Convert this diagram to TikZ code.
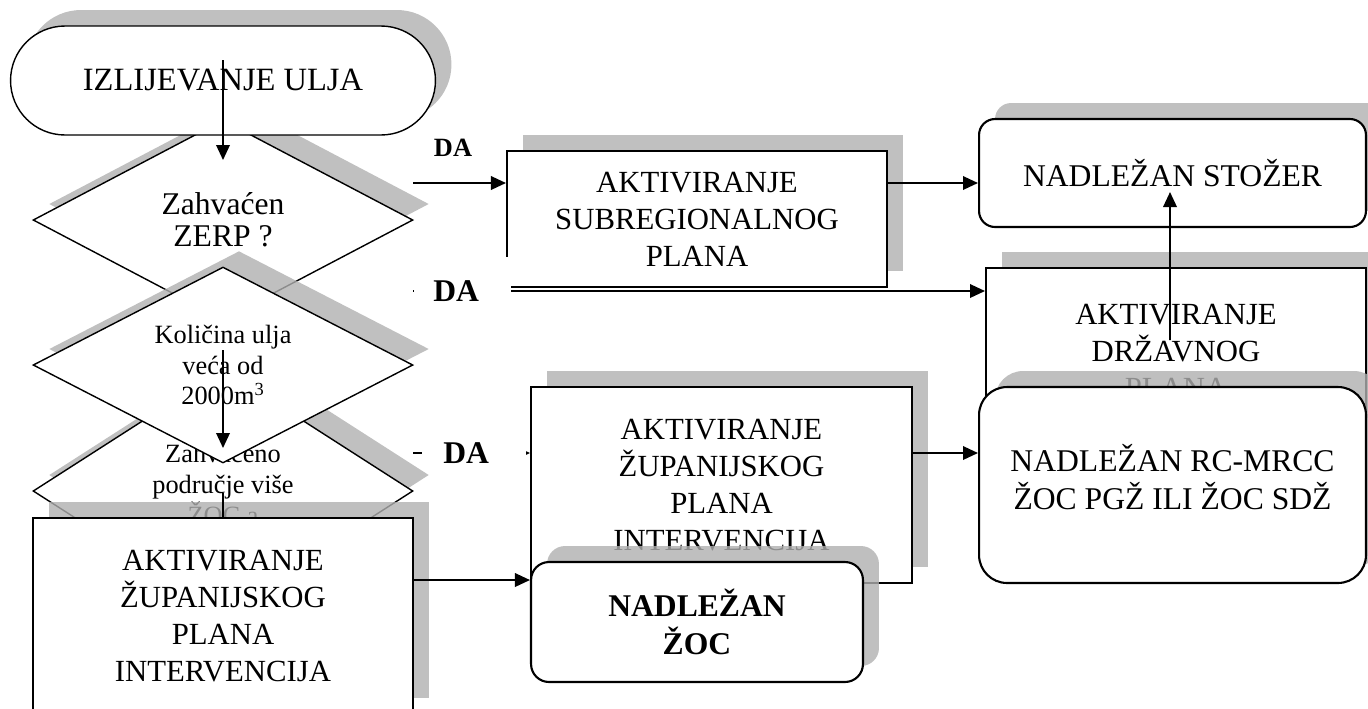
\documentclass[tikz,border=0pt]{standalone}
\usepackage{fontspec}
\setmainfont{Liberation Serif}
\usetikzlibrary{shapes.geometric,shadows,arrows.meta}

\definecolor{sjena}{rgb}{0.69,0.69,0.69}
\newcommand{\vel}[2]{\fontsize{#1}{#2}\selectfont}

\tikzset{
    sjen/.style={drop shadow={shadow xshift=.32cm, shadow yshift=.32cm, fill=sjena, opacity=.8}},
    okvir/.style={rectangle, draw, fill=white, line width=1.2pt, align=center, inner sep=0pt, sjen, font=\vel{17.5}{21}},
    zaobljen/.style={okvir, rounded corners=#1},
    odluka/.style={diamond, draw, fill=white, line width=.8pt, align=center, inner sep=0pt, sjen},
    strelica/.style={line width=1.1pt, -{Triangle[length=.3cm,width=.27cm]}},
    oznaka/.style={font=\bfseries\vel{18}{20}, inner sep=0pt}
}

\begin{document}
\begin{tikzpicture}[x=0.02cm, y=-0.02cm]
                    \useasboundingbox (0,0) rectangle (1368,708);
                    \clip (0,0) rectangle (1368,708);

                    \node[odluka, minimum width=7.6cm, minimum height=4cm, shape aspect=1.9, font=\vel{18}{18.2}] (zerp) at (223,220) {Zahvaćen\\ZERP ?};
                    \node[rectangle, draw, fill=white, line width=.8pt, rounded corners=1.09cm, minimum width=8.5cm, minimum height=2.18cm, sjen, font=\vel{18.5}{22}] (start) at (223,80.5) {IZLIJEVANJE ULJA};
                    \node[odluka, minimum width=7.6cm, minimum height=4.88cm, shape aspect=1.56, font=\vel{15}{17.6}] (vise) at (223,491) {Zahvaćeno\\područje više\\ŽOC a\rule[-8pt]{0pt}{8pt}};
                    \node[odluka, minimum width=7.6cm, minimum height=3.92cm, shape aspect=1.94, font=\vel{15}{17.6}] (kolicina) at (223,365) {Količina ulja\\veća od\\2000m\textsuperscript{3}};
                    \node[okvir, minimum width=7.6cm, minimum height=3.92cm] (zupA) at (223,616) {AKTIVIRANJE\\ŽUPANIJSKOG\\PLANA\\INTERVENCIJA};

                    \node[okvir, minimum width=7.6cm, minimum height=2.72cm] (subreg) at (697,219) {AKTIVIRANJE\\SUBREGIONALNOG\\PLANA};
                    \node[zaobljen=.32cm, minimum width=7.74cm, minimum height=2.16cm, font=\vel{18}{21.6}] (stozer) at (1172.5,173) {NADLEŽAN STOŽER};
                    \node[okvir, minimum width=7.6cm, minimum height=3.32cm] (drzavni) at (1176,351) {AKTIVIRANJE\\DRŽAVNOG\\PLANA};
                    \node[okvir, minimum width=7.62cm, minimum height=3.92cm] (zupB) at (721.5,485) {AKTIVIRANJE\\ŽUPANIJSKOG\\PLANA\\INTERVENCIJA};
                    \node[zaobljen=.56cm, minimum width=7.74cm, minimum height=3.92cm, font=\vel{18}{21.6}] (rcmrcc) at (1172.5,485) {NADLEŽAN RC-MRCC\\ŽOC PGŽ ILI ŽOC SDŽ\rule[-9pt]{0pt}{9pt}};
                    \node[zaobljen=.36cm, minimum width=6.64cm, minimum height=2.4cm, font=\bfseries\vel{18}{22}] (zoc) at (697,622) {NADLEŽAN\\ŽOC};

                    \coordinate (da1) at (413,183);
                    \coordinate (da2) at (413,291);
                    \coordinate (da3) at (413,453);

                    \draw[strelica] ([yshift=.41cm]start.center) -- ([yshift=1.2cm]zerp.center);
                    \draw[strelica] ([yshift=.3cm]kolicina.center) -- ([yshift=.86cm]vise.center);
                    \draw[line width=1.1pt] ([yshift=-.04cm]vise.center) -- (zupA.north);
                    \draw[strelica] (da1) -- (da1 -| subreg.west);
                    \draw[strelica] (da2) -- (da2 -| drzavni.west);
                    \draw[strelica] (da3) -- (da3 -| zupB.west);
                    \draw[strelica] (da1 -| subreg.east) -- (da1 -| stozer.west);
                    \draw[strelica] ([xshift=-.12cm,yshift=.22cm]drzavni.center) -- ([xshift=-.05cm,yshift=-.38cm]stozer.center);
                    \draw[strelica] ([yshift=.72cm]zupA.east) -- ([yshift=.84cm]zoc.west);
                    \draw[strelica] (da3 -| zupB.east) -- (da3 -| rcmrcc.west);

                    \node[oznaka, font=\bfseries\vel{15}{17}] (oznDA1) at (453,148) {DA};
                    \node[oznaka, fill=white, anchor=west, text width=1.94cm, minimum height=1.36cm, align=left] (oznDA2) at (414,291) {\hspace*{.38cm}DA};
                    \node[oznaka, fill=white, anchor=west, text width=2.08cm, minimum height=.5cm, align=left] (oznDA3) at (422,453) {\hspace*{.42cm}DA};
\end{tikzpicture}
\end{document}
